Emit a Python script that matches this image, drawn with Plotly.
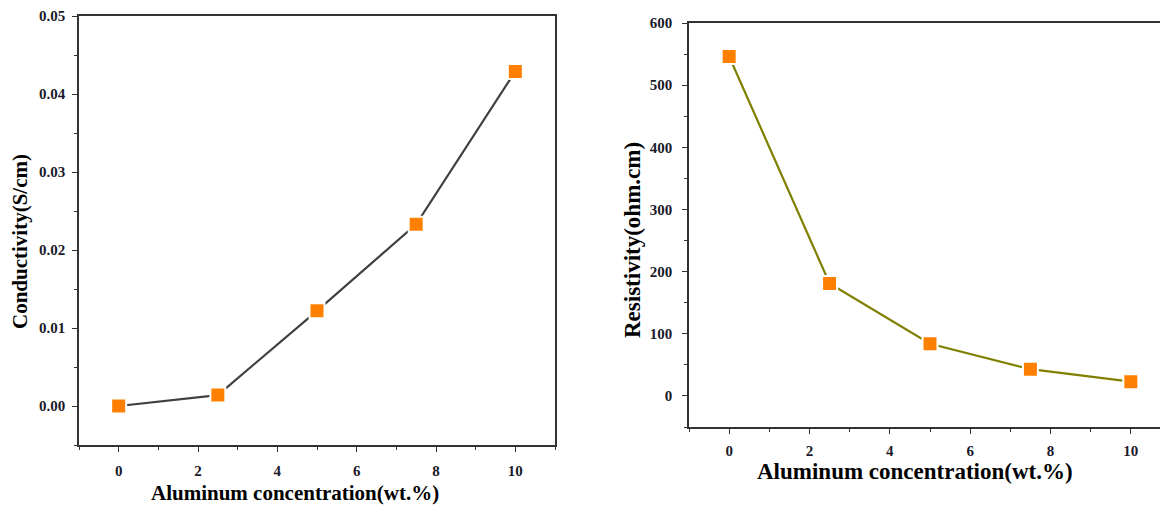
import plotly.graph_objects as go

# Data
al_conc = [0, 2.5, 5, 7.5, 10]
conductivity = [0.0000, 0.0014, 0.0122, 0.0233, 0.0429]
resistivity = [546, 181, 84, 43, 23]

x_title = "Aluminum concentration(wt.%)"
y1_title = "Conductivity(S/cm)"
y2_title = "Resistivity(ohm.cm)"

W, H = 1168, 512
OFF = 8  # page body margin
FONT = "Liberation Serif"
AXC = "#333333"
TICKC = "#1a1a2a"

fig = go.Figure()

fig.add_trace(go.Scatter(
    x=al_conc, y=conductivity, mode="lines+markers",
    line=dict(color="#404040", width=2.2),
    marker=dict(symbol="square", size=15, color="#FF8000",
                line=dict(color="white", width=2)),
    xaxis="x", yaxis="y", showlegend=False))

fig.add_trace(go.Scatter(
    x=al_conc, y=resistivity, mode="lines+markers",
    line=dict(color="#808000", width=2.2),
    marker=dict(symbol="square", size=15, color="#FF8000",
                line=dict(color="white", width=2)),
    xaxis="x2", yaxis="y2", showlegend=False))

def px_x(p):
    return (p - OFF) / W

def px_y(p):
    return 1 - (p - OFF) / H

tickfont = dict(family=FONT, size=15, color=TICKC)

common = dict(showgrid=False, zeroline=False, showline=True, linecolor=AXC,
              linewidth=1.5, ticks="outside", ticklen=5, tickwidth=1.2,
              tickcolor=AXC, tickfont=tickfont, automargin=False)

fig.update_layout(
    template="none",
    width=W, height=H,
    margin=dict(l=0, r=0, t=0, b=0, pad=0),
    paper_bgcolor="white", plot_bgcolor="white",
    xaxis=dict(domain=[px_x(79), px_x(555)], range=[-1, 11], tick0=0, dtick=2,
               mirror=True, anchor="y", ticklabelstandoff=6,
               minor=dict(ticks="outside", ticklen=3, dtick=1, tick0=0,
                          tickcolor=AXC, tickwidth=1.2),
               **common),
    yaxis=dict(domain=[px_y(445), px_y(16)], range=[-0.005, 0.05], tick0=0,
               dtick=0.01, tickformat=".2f", mirror=True, anchor="x",
               ticklabelstandoff=4,
               minor=dict(ticks="outside", ticklen=3, dtick=0.005, tick0=0,
                          tickcolor=AXC, tickwidth=1.2),
               **common),
    xaxis2=dict(domain=[px_x(689), px_x(1171)], range=[-1, 11], tick0=0, dtick=2,
                mirror=True, anchor="y2", ticklabelstandoff=4,
                minor=dict(ticks="outside", ticklen=3, dtick=1, tick0=0,
                           tickcolor=AXC, tickwidth=1.2),
                **common),
    yaxis2=dict(domain=[px_y(427), px_y(23)], range=[-50, 600], tick0=0,
                dtick=100, mirror=False, anchor="x2", ticklabelstandoff=7,
                minor=dict(ticks="outside", ticklen=3, dtick=50, tick0=0,
                           tickcolor=AXC, tickwidth=1.2),
                **common),
)

title_font_l = dict(family=FONT, size=21, color="black")
title_font_r = dict(family=FONT, size=23, color="black")

fig.add_annotation(text=f"<b>{x_title}</b>", x=px_x(295), y=px_y(493),
                   xref="paper", yref="paper", showarrow=False,
                   xanchor="center", yanchor="middle", font=title_font_l)
fig.add_annotation(text=f"<b>{y1_title}</b>", x=px_x(20), y=px_y(242),
                   xref="paper", yref="paper", showarrow=False, textangle=-90,
                   xanchor="center", yanchor="middle", font=title_font_l)
fig.add_annotation(text=f"<b>{x_title}</b>", x=px_x(915), y=px_y(471),
                   xref="paper", yref="paper", showarrow=False,
                   xanchor="center", yanchor="middle", font=title_font_r)
fig.add_annotation(text=f"<b>{y2_title}</b>", x=px_x(632), y=px_y(240),
                   xref="paper", yref="paper", showarrow=False, textangle=-90,
                   xanchor="center", yanchor="middle", font=title_font_r)

fig.for_each_xaxis(lambda a: a.update(tickprefix="<b>", ticksuffix="</b>"))
fig.for_each_yaxis(lambda a: a.update(tickprefix="<b>", ticksuffix="</b>"))

fig.write_html("out.html")
